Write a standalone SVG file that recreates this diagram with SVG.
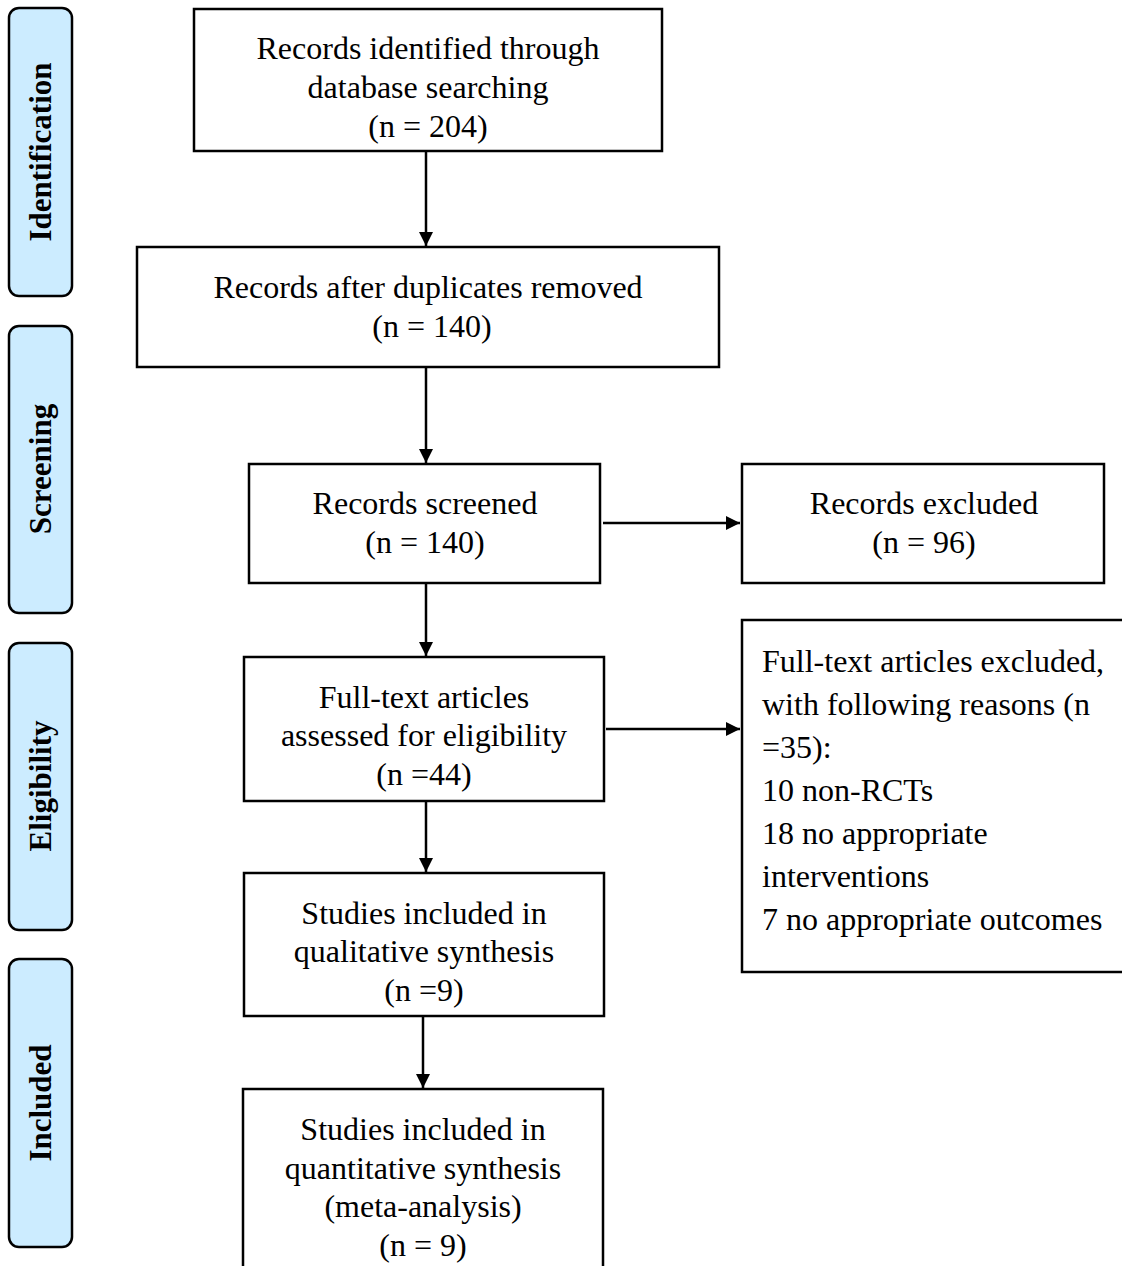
<svg xmlns="http://www.w3.org/2000/svg" width="1122" height="1266" viewBox="0 0 1122 1266">
<defs>
<style>
.box{fill:#fff;stroke:#000;stroke-width:2.5}
.side{fill:#CCECFF;stroke:#000;stroke-width:2.5}
.t{font-family:"Liberation Serif","Times New Roman",serif;font-size:32px;fill:#000;text-anchor:middle}
.tl{font-family:"Liberation Serif","Times New Roman",serif;font-size:32px;fill:#000}
.st{font-family:"Liberation Serif","Times New Roman",serif;font-size:31px;font-weight:bold;fill:#000;text-anchor:middle}
.c{stroke:#000;stroke-width:2.5;fill:none}
</style>
<marker id="ah" viewBox="0 0 10 10" refX="10" refY="5" markerWidth="15" markerHeight="14" markerUnits="userSpaceOnUse" orient="auto">
<path d="M0,0 L10,5 L0,10 z" fill="#000"/>
</marker>
</defs>
<rect width="1122" height="1266" fill="#fff"/>
<g id="side-identification"><rect class="side" x="9" y="8" width="63" height="288" rx="10"/><text class="st" transform="translate(51,152) rotate(-90)">Identification</text></g>
<g id="side-screening"><rect class="side" x="9" y="326" width="63" height="287" rx="10"/><text class="st" transform="translate(51,469) rotate(-90)">Screening</text></g>
<g id="side-eligibility"><rect class="side" x="9" y="643" width="63" height="287" rx="10"/><text class="st" transform="translate(51,786) rotate(-90)">Eligibility</text></g>
<g id="side-included"><rect class="side" x="9" y="959" width="63" height="288" rx="10"/><text class="st" transform="translate(51,1103) rotate(-90)">Included</text></g>

<g id="connectors">
<line class="c" x1="426" y1="151" x2="426" y2="246" marker-end="url(#ah)"/>
<line class="c" x1="426" y1="367" x2="426" y2="463" marker-end="url(#ah)"/>
<line class="c" x1="426" y1="583" x2="426" y2="656" marker-end="url(#ah)"/>
<line class="c" x1="426" y1="801" x2="426" y2="872" marker-end="url(#ah)"/>
<line class="c" x1="423" y1="1016" x2="423" y2="1088" marker-end="url(#ah)"/>
<line class="c" x1="603" y1="523" x2="740" y2="523" marker-end="url(#ah)"/>
<line class="c" x1="606" y1="729" x2="740" y2="729" marker-end="url(#ah)"/>
</g>

<g id="n-identified"><rect class="box" x="194" y="9" width="468" height="142"/>
<text class="t" x="428" y="59">Records identified  through</text>
<text class="t" x="428" y="98">database searching</text>
<text class="t" x="428" y="137">(n = 204)</text></g>

<g id="n-duplicates"><rect class="box" x="137" y="247" width="582" height="120"/>
<text class="t" x="428" y="298">Records after duplicates removed</text>
<text class="t" x="432" y="337">(n = 140)</text></g>

<g id="n-screened"><rect class="box" x="249" y="464" width="351" height="119"/>
<text class="t" x="425" y="514">Records screened</text>
<text class="t" x="425" y="553">(n = 140)</text></g>

<g id="n-excluded"><rect class="box" x="742" y="464" width="362" height="119"/>
<text class="t" x="924" y="514">Records excluded</text>
<text class="t" x="924" y="553">(n = 96)</text></g>

<g id="n-fulltext"><rect class="box" x="244" y="657" width="360" height="144"/>
<text class="t" x="424" y="708">Full-text articles</text>
<text class="t" x="424" y="746">assessed for eligibility</text>
<text class="t" x="424" y="785">(n =44)</text></g>

<g id="n-reasons"><rect class="box" x="742" y="620" width="392" height="352"/>
<text class="tl" x="762" y="672">Full-text articles  excluded,</text>
<text class="tl" x="762" y="715">with following reasons (n</text>
<text class="tl" x="762" y="758">=35):</text>
<text class="tl" x="762" y="801">10 non-RCTs</text>
<text class="tl" x="762" y="844">18 no appropriate</text>
<text class="tl" x="762" y="887">interventions</text>
<text class="tl" x="762" y="930">7 no appropriate outcomes</text></g>

<g id="n-qualitative"><rect class="box" x="244" y="873" width="360" height="143"/>
<text class="t" x="424" y="924">Studies included in</text>
<text class="t" x="424" y="962">qualitative synthesis</text>
<text class="t" x="424" y="1001">(n =9)</text></g>

<g id="n-quantitative"><rect class="box" x="243" y="1089" width="360" height="190"/>
<text class="t" x="423" y="1140">Studies included in</text>
<text class="t" x="423" y="1179">quantitative synthesis</text>
<text class="t" x="423" y="1217">(meta-analysis)</text>
<text class="t" x="423" y="1256">(n = 9)</text></g>
</svg>
